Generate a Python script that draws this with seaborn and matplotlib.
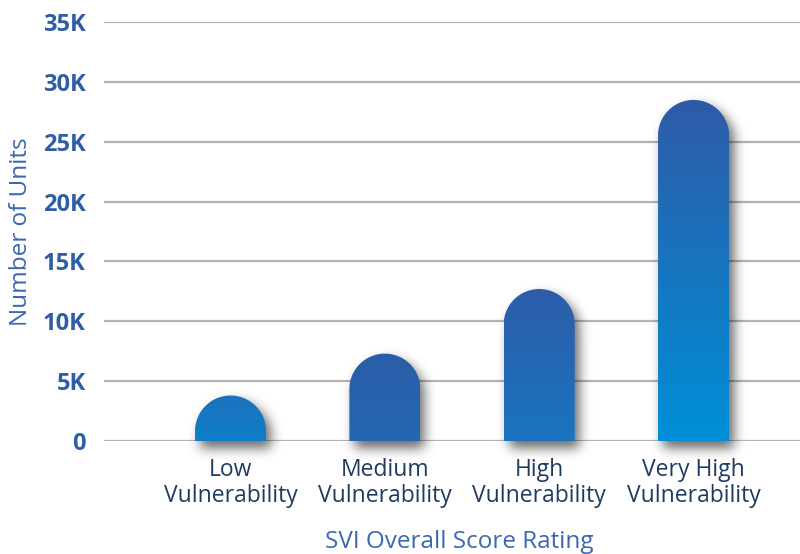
import numpy as np
import matplotlib
matplotlib.use("Agg")
import matplotlib.pyplot as plt
import seaborn as sns
from matplotlib.patches import Polygon
from matplotlib.path import Path
from matplotlib.colors import LinearSegmentedColormap
from matplotlib.ticker import FuncFormatter

# data
categories = ["Low\nVulnerability", "Medium\nVulnerability",
              "High\nVulnerability", "Very High\nVulnerability"]
units = [3800, 7300, 12700, 28500]
y_ticks = [0, 5000, 10000, 15000, 20000, 25000, 30000, 35000]

# gradient colours per bar (top, bottom)
top_colors = ["#1b72be", "#2b5da8", "#2d5ca8", "#2e5ba7"]
bottom_colors = ["#0e7fc9", "#2367b1", "#1a74c0", "#008fd7"]

sns.set_theme(style="white")
plt.rcParams["font.family"] = ["Open Sans", "DejaVu Sans"]

fig = plt.figure(figsize=(8, 5.54), dpi=100)
ax = fig.add_axes([0.13, 0.204, 0.87, 0.756])

sns.barplot(x=categories, y=units, width=0.46, color="#2d5ca8", ax=ax)
ax.set_xlim(-0.82, 3.69)
ax.set_ylim(0, 35000)
fig.canvas.draw()

# pixels per data unit, so the rounded top is a true semicircle
px_x = ax.bbox.width / (ax.get_xlim()[1] - ax.get_xlim()[0])
px_y = ax.bbox.height / (ax.get_ylim()[1] - ax.get_ylim()[0])


def blur(a, sigma):
    r = int(3 * sigma)
    k = np.exp(-0.5 * (np.arange(-r, r + 1) / sigma) ** 2)
    k /= k.sum()
    a = np.apply_along_axis(lambda m: np.convolve(m, k, mode="same"), 0, a)
    a = np.apply_along_axis(lambda m: np.convolve(m, k, mode="same"), 1, a)
    return a


bars = list(ax.patches)
for i, p in enumerate(bars):
    p.set_visible(False)
    x0, w, h = p.get_x(), p.get_width(), p.get_height()
    rx = w / 2
    ry = rx * px_x / px_y
    t = np.linspace(np.pi, 0, 60)
    pts = [(x0, 0), (x0, h - ry)]
    pts += list(zip(x0 + rx + rx * np.cos(t), h - ry + ry * np.sin(t)))
    pts += [(x0 + w, h - ry), (x0 + w, 0)]

    # blurred drop shadow, rasterised in data space at pixel resolution
    dx, dy, sig, m = 5 / px_x, 7 / px_y, 6.0, 30
    gx = np.arange(x0 - m / px_x, x0 + w + m / px_x, 1 / px_x)
    gy = np.arange(-m / px_y, h + m / px_y, 1 / px_y)
    X, Y = np.meshgrid(gx, gy)
    inside = Path(pts).contains_points(
        np.column_stack([(X - dx).ravel(), (Y + dy).ravel()]))
    mask = blur(inside.reshape(X.shape).astype(float), sig)
    rgba = np.zeros(X.shape + (4,))
    rgba[..., 3] = mask * 0.6
    ax.imshow(rgba, extent=[gx[0], gx[-1], gy[0], gy[-1]], origin="lower",
              aspect="auto", zorder=2, clip_on=False,
              interpolation="bilinear")

    shape = Polygon(pts, closed=True, facecolor="none", edgecolor="none",
                    zorder=3)
    ax.add_patch(shape)
    cmap = LinearSegmentedColormap.from_list(
        "g%d" % i, [bottom_colors[i], top_colors[i]])
    grad = np.linspace(0, 1, 256).reshape(-1, 1)
    im = ax.imshow(grad, extent=[x0, x0 + w, 0, h], origin="lower",
                   aspect="auto", cmap=cmap, zorder=3)
    im.set_clip_path(shape)

ax.set_xlim(-0.82, 3.69)
ax.set_ylim(0, 35000)
ax.set_yticks(y_ticks)
ax.yaxis.set_major_formatter(
    FuncFormatter(lambda v, _: "0" if v == 0 else "%dK" % (v / 1000)))

for v in y_ticks:
    ax.axhline(v, color="#b3b3b3", lw=1.6, zorder=0)

sns.despine(ax=ax, left=True, bottom=True)
ax.tick_params(axis="y", length=0, pad=13, labelsize=17,
               labelcolor="#2f5da6")
ax.tick_params(axis="x", length=0, pad=12, labelsize=16.5,
               labelcolor="#1f3b60")
for lab in ax.get_yticklabels():
    lab.set_fontweight("bold")
for lab in ax.get_xticklabels():
    lab.set_linespacing(1.15)

ax.set_ylabel("Number of Units", fontsize=17.5, color="#3a68b0")
ax.yaxis.set_label_coords(-0.102, 0.5)
ax.set_xlabel("SVI Overall Score Rating", fontsize=17.5, color="#3a68b0")
ax.xaxis.set_label_coords(0.51, -0.212)

fig.savefig("out.png", dpi=100)
